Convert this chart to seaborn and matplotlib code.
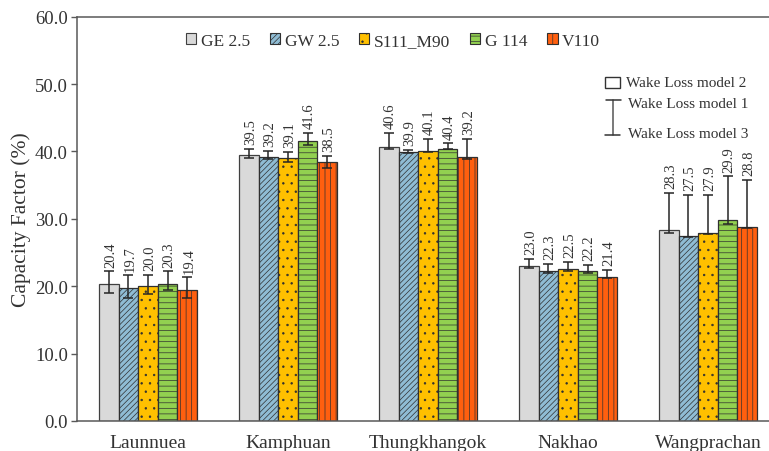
import numpy as np
import pandas as pd
import matplotlib
matplotlib.use("Agg")
import matplotlib.pyplot as plt
from matplotlib.patches import Patch, Rectangle
from matplotlib.lines import Line2D
import seaborn as sns

# ---------------- data ----------------
sites = ["Launnuea", "Kamphuan", "Thungkhangok", "Nakhao", "Wangprachan"]
turbines = ["GE 2.5", "GW 2.5", "S111_M90", "G 114", "V110"]

# Wake Loss model 2 (bar height)
cf_ge = [20.4, 39.5, 40.6, 23.0, 28.3]
cf_gw = [19.7, 39.2, 39.9, 22.3, 27.5]
cf_s111 = [20.0, 39.1, 40.1, 22.5, 27.9]
cf_g114 = [20.3, 41.6, 40.4, 22.2, 29.9]
cf_v110 = [19.4, 38.5, 39.2, 21.4, 28.8]

# Wake Loss model 1 (upper end of error bar)
up_ge = [22.2, 40.4, 42.7, 24.0, 33.8]
up_gw = [21.6, 40.1, 40.2, 23.3, 33.5]
up_s111 = [21.7, 39.9, 41.9, 23.6, 33.6]
up_g114 = [22.2, 42.8, 41.2, 23.2, 36.3]
up_v110 = [21.3, 39.4, 41.9, 22.4, 35.8]

# Wake Loss model 3 (lower end of error bar)
lo_ge = [19.0, 39.0, 40.3, 22.7, 27.9]
lo_gw = [18.2, 38.9, 39.7, 22.0, 27.3]
lo_s111 = [18.9, 38.5, 39.9, 22.2, 27.7]
lo_g114 = [19.4, 40.9, 40.3, 21.9, 29.3]
lo_v110 = [18.2, 37.6, 38.9, 21.2, 28.6]

values = [cf_ge, cf_gw, cf_s111, cf_g114, cf_v110]
uppers = [up_ge, up_gw, up_s111, up_g114, up_v110]
lowers = [lo_ge, lo_gw, lo_s111, lo_g114, lo_v110]

yticks = [0, 10, 20, 30, 40, 50, 60]

colors = ["#d9d9d9", "#8fbcd4", "#ffc000", "#92d050", "#ff5f0f"]
hatches = ["", "//////", "..", "---", "|||"]
edges = ["#404040", "#303030", "#303030", "#303030", "#303030"]

# ---------------- style ----------------
sns.set_theme(style="white")
plt.rcParams["font.family"] = ["Liberation Serif", "DejaVu Serif"]
plt.rcParams["hatch.linewidth"] = 0.5
text_col = "#333333"

rows = []
for t, vals in zip(turbines, values):
    for s, v in zip(sites, vals):
        rows.append({"Site": s, "Turbine": t, "CF": v})
df = pd.DataFrame(rows)

fig = plt.figure(figsize=(7.69, 4.52), dpi=100)
ax = fig.add_axes([77 / 769, 30 / 452, 1 - 77 / 769, (422 - 17.7) / 452])

sns.barplot(data=df, x="Site", y="CF", hue="Turbine", order=sites,
            hue_order=turbines, palette=colors, width=0.7, gap=0,
            errorbar=None, ax=ax, legend=False, saturation=1)

bar_conts = list(ax.containers)
for i, cont in enumerate(bar_conts):
    for p in cont.patches:
        p.set_facecolor(colors[i])
        p.set_edgecolor(edges[i])
        p.set_linewidth(0.9)
        if hatches[i]:
            p.set_hatch(hatches[i])

for i, cont in enumerate(bar_conts):
    xs = np.array([p.get_x() + p.get_width() / 2 for p in cont.patches])
    v = np.array(values[i])
    hi = np.array(uppers[i])
    lo = np.array(lowers[i])
    ax.errorbar(xs, v, yerr=[v - lo, hi - v], fmt="none", ecolor="#262626",
                elinewidth=1.1, capsize=3.3, capthick=1.1, zorder=5)
    for x, val, h in zip(xs, v, hi):
        ax.annotate(f"{val:.1f}", xy=(x, h), xytext=(1.2, 3.5),
                    textcoords="offset points", rotation=90, ha="center",
                    va="bottom", fontsize=10.5, color=text_col)

ax.set_ylim(0, 60)
ax.set_yticks(yticks)
ax.set_yticklabels([f"{t:.1f}" for t in yticks], fontsize=13.5, color=text_col)
ax.set_xlim(-0.507, 4.436)
ax.set_xlabel("")
ax.set_ylabel("Capacity Factor (%)", fontsize=15.5, color=text_col, labelpad=3)
ax.tick_params(axis="x", length=0, pad=9.5, labelsize=14, labelcolor=text_col)
ax.tick_params(axis="y", length=4, width=1, color="#595959", direction="out",
               pad=2.5, left=True)
for side in ["left", "bottom", "top"]:
    ax.spines[side].set_color("#595959")
    ax.spines[side].set_linewidth(1.1)
ax.spines["right"].set_visible(False)

handles = [Patch(facecolor=colors[i], edgecolor=edges[i], hatch=hatches[i],
                 linewidth=0.8) for i in range(len(turbines))]
fig.legend(handles, turbines, loc="center", bbox_to_anchor=(0.511, 1 - 42 / 452),
           ncol=5, frameon=False, fontsize=12.5, handlelength=0.6,
           handleheight=0.6, handletextpad=0.25, columnspacing=1.15,
           labelcolor=text_col)

# wake-loss model key
def fx(px):
    return px / 769

def fy(py):
    return 1 - py / 452

fig.patches.append(Rectangle((fx(605), fy(89)), fx(620) - fx(605), fy(78) - fy(89),
                             transform=fig.transFigure, facecolor="white",
                             edgecolor="#333333", linewidth=1.0))
fig.text(fx(626), fy(83.5), "Wake Loss model 2", fontsize=11, va="center",
         ha="left", color=text_col)
fig.lines.append(Line2D([fx(613), fx(613)], [fy(101), fy(136)],
                        transform=fig.transFigure, color="#555555", lw=1.1))
fig.lines.append(Line2D([fx(606), fx(621)], [fy(101), fy(101)],
                        transform=fig.transFigure, color="#333333", lw=1.1))
fig.lines.append(Line2D([fx(605), fx(620)], [fy(136), fy(136)],
                        transform=fig.transFigure, color="#333333", lw=1.1))
fig.text(fx(628), fy(104), "Wake Loss model 1", fontsize=11, va="center",
         ha="left", color=text_col)
fig.text(fx(628), fy(134), "Wake Loss model 3", fontsize=11, va="center",
         ha="left", color=text_col)

fig.savefig("out.png", dpi=100)
